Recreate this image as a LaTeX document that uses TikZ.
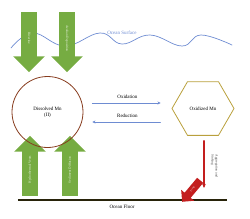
\documentclass[tikz,border=0pt]{standalone}
\usepackage{fontspec}
\setmainfont{Liberation Serif}
\usetikzlibrary{shapes.geometric,shapes.arrows,arrows.meta}
\definecolor{mngreen}{RGB}{118,172,66}
\definecolor{mnbrown}{RGB}{135,60,30}
\definecolor{mngold}{RGB}{185,160,60}
\definecolor{mnblue}{RGB}{110,140,210}
\definecolor{mnred}{RGB}{195,30,30}
\definecolor{mnfloor}{RGB}{40,35,10}
\begin{document}
\begin{tikzpicture}[x=1pt,y=-1pt,line join=round,line cap=round,font=\fontsize{5}{6}\selectfont,
	flux/.style={single arrow, fill=mngreen, draw=none, minimum height=60pt, minimum width=31pt,
		single arrow head extend=8pt, inner xsep=2pt, inner ysep=6pt, text height=2.5pt, text depth=.7pt,
		text=white!85!mngreen, font=\fontsize{3.4}{4}\selectfont},
	flow/.style={->, >={Stealth[length=3pt,width=3pt]}, mnblue, line width=.8pt},
	sink/.style={->, >={Stealth[length=4pt,width=3.5pt]}, mnred, line width=1.2pt}]

	% Rahmen
	\useasboundingbox (0,0) rectangle (250,218);

	% Meeresoberflaeche
	\draw[mnblue, line width=.7pt] plot[smooth, tension=.7] coordinates {(11,48) (33,33) (65,46) (100,33) (122,44) (150,35) (182,46) (201,35) (232,45)};
	\node[mnblue] (surface) at (122,33) {Ocean Surface};

	% Meeresboden
	\coordinate (floorL) at (18,200);
	\coordinate (floorR) at (227,200);
	\draw[mnfloor, line width=2pt, line cap=butt] (floorL) -- (floorR);
	\node (floor) at (122,207) {Ocean Floor};

	% Eintraege von oben
	\node[flux, rotate=-90, anchor=tail] (river) at (29,12) {Riverine};
	\node[flux, rotate=-90, anchor=tail] (dust) at (67,12) {Aeolian Deposition};

	% Eintraege von unten
	\node[flux, rotate=90, anchor=tail] (vent) at (30,196) {Hydrothermal Vents};
	\node[flux, rotate=90, anchor=tail] (sed) at (70,196) {Sediment Diffusion};

	% Die zwei Formen
	\node[draw=mnbrown, line width=.8pt, circle, minimum size=71pt, inner sep=0pt, align=center] (dis) at (47.5,112) {Dissolved Mn\\(II)};
	\node[draw=mngold, line width=.8pt, regular polygon, regular polygon sides=6, minimum size=62pt, inner sep=0pt] (oxi) at (203,108.5) {Oxidized Mn};

	% Redox
	\draw[flow, shorten <=9pt, shorten >=11pt] ([yshift=9pt]dis.east) -- ([yshift=9pt]dis.east -| oxi.west) node[midway, above=.5pt, black] {Oxidation};
	\draw[flow, shorten <=11pt, shorten >=9pt] ([yshift=-10pt]dis.east -| oxi.west) -- ([yshift=-10pt]dis.east) node[midway, above=.5pt, black] {Reduction};

	% Absinken und Begraben
	\coordinate (settle) at (204,188);
	\draw[sink, shorten <=5pt] (oxi.south -| settle) -- (settle) node[pos=.58, rotate=-90, above=3pt, anchor=south, align=left, text=black!75, font=\fontsize{3.4}{4}\selectfont] {Aggregation and\\Sinking};
	\node[single arrow, fill=mnred, draw=none, rotate=-130, minimum height=28pt, minimum width=17pt,
		single arrow head extend=4.5pt, inner xsep=1pt, inner ysep=2.5pt, text height=2pt, text depth=.5pt,
		text=white!80!mnred, font=\fontsize{2.5}{3}\selectfont, anchor=tip] (burial) at (182,202) {Burial};

\end{tikzpicture}
\end{document}
